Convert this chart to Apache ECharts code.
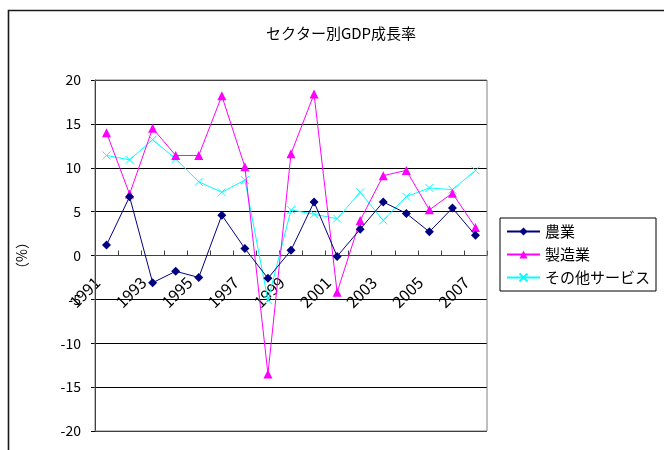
<!DOCTYPE html>
<html>
<head>
<meta charset="utf-8">
<script src="https://cdn.jsdelivr.net/npm/echarts@6/dist/echarts.min.js"></script>
<style>
  html, body { margin: 0; padding: 0; background: #fff; }
  #chart { width: 664px; height: 450px; }
</style>
</head>
<body>
<div id="chart"></div>
<script>
// 年次（カテゴリ）
var years = ['1991','1992','1993','1994','1995','1996','1997','1998','1999',
             '2000','2001','2002','2003','2004','2005','2006','2007'];

// 部門別成長率（%）
var agriculture   = [1.2, 6.7, -3.1, -1.8, -2.5, 4.6, 0.8, -2.6, 0.6, 6.1, -0.1, 3.0, 6.1, 4.8, 2.7, 5.4, 2.3];
var manufacturing = [14.0, 7.0, 14.5, 11.4, 11.4, 18.2, 10.1, -13.5, 11.6, 18.4, -4.2, 4.0, 9.1, 9.7, 5.2, 7.1, 3.2];
var services      = [11.4, 10.9, 13.2, 11.0, 8.4, 7.2, 8.6, -5.1, 5.2, 4.7, 4.2, 7.2, 4.0, 6.7, 7.7, 7.5, 9.7];

var seriesNames = ['農業', '製造業', 'その他サービス'];
var yTicks = { min: -20, max: 20, step: 5 };

var FONT = '"Noto Sans CJK JP", "Liberation Sans", sans-serif';
var PLOT = { left: 95, top: 80, width: 392, height: 351 };

var chart = echarts.init(document.getElementById('chart'), null, { renderer: 'canvas' });

var crossSymbol = 'path://M0,0L10,10M10,0L0,10';

// the category axis sits on the zero line of the value axis
var zeroOffset = -PLOT.height * (0 - yTicks.min) / (yTicks.max - yTicks.min);

chart.setOption({
  animation: false,
  textStyle: { fontFamily: FONT, color: '#000' },
  graphic: [
    {
      type: 'rect',
      shape: { x: 8.5, y: 10.5, width: 700, height: 480 },
      style: { fill: 'none', stroke: '#1a1a1a', lineWidth: 1.6 },
      silent: true, z: 0
    },
    {
      type: 'rect',
      shape: { x: PLOT.left, y: PLOT.top, width: PLOT.width, height: PLOT.height },
      style: { fill: 'none', stroke: '#808080', lineWidth: 1 },
      silent: true, z: 1
    },
    {
      type: 'text',
      x: 341, y: 33,
      style: {
        text: 'セクター別GDP成長率', font: '15px ' + FONT,
        fill: '#000', textAlign: 'center', textVerticalAlign: 'middle'
      }
    }
  ],
  grid: {
    left: PLOT.left, top: PLOT.top, width: PLOT.width, height: PLOT.height,
    containLabel: false, outerBoundsMode: 'none'
  },
  legend: {
    orient: 'vertical',
    left: 500, top: 218,
    data: seriesNames,
    itemWidth: 33, itemHeight: 10, itemGap: 8,
    padding: [6, 6, 6, 6],
    borderColor: '#000', borderWidth: 1,
    backgroundColor: '#fff',
    textStyle: { fontSize: 15, fontFamily: FONT, color: '#000', padding: [0, 40, 0, 0] }
  },
  xAxis: {
    type: 'category',
    data: years,
    boundaryGap: true,
    position: 'bottom',
    offset: zeroOffset,
    axisLine: { onZero: false, lineStyle: { color: '#404040', width: 1 } },
    axisTick: { show: true, inside: true, length: 5, interval: 0, lineStyle: { color: '#404040' } },
    axisLabel: {
      interval: 1, rotate: 45, margin: 15,
      fontSize: 16, fontFamily: FONT, color: '#000',
      padding: [0, 13, 0, 0]
    },
    splitLine: { show: false }
  },
  yAxis: {
    type: 'value',
    min: yTicks.min, max: yTicks.max, interval: yTicks.step,
    name: '（%）', nameLocation: 'middle', nameRotate: 90, nameGap: 66,
    nameTextStyle: { fontSize: 14, fontFamily: FONT, color: '#000' },
    axisLine: { show: true, lineStyle: { color: '#000', width: 1 } },
    axisTick: { show: true, length: 4, lineStyle: { color: '#000' } },
    axisLabel: { fontSize: 14, fontFamily: FONT, color: '#000', margin: 14 },
    splitLine: { show: true, lineStyle: { color: '#000', width: 1 } }
  },
  series: [
    {
      name: seriesNames[0], type: 'line', data: agriculture,
      symbol: 'diamond', symbolSize: 9,
      lineStyle: { color: '#000080', width: 1 },
      itemStyle: { color: '#000080' }, z: 4
    },
    {
      name: seriesNames[1], type: 'line', data: manufacturing,
      symbol: 'triangle', symbolSize: 9,
      lineStyle: { color: '#FF00FF', width: 1 },
      itemStyle: { color: '#FF00FF' }, z: 3
    },
    {
      name: seriesNames[2], type: 'line', data: services,
      symbol: crossSymbol, symbolSize: 8,
      lineStyle: { color: '#00FFFF', width: 1 },
      itemStyle: { color: '#00FFFF', borderColor: '#00FFFF', borderWidth: 1 }, z: 2
    }
  ]
});
</script>
</body>
</html>
